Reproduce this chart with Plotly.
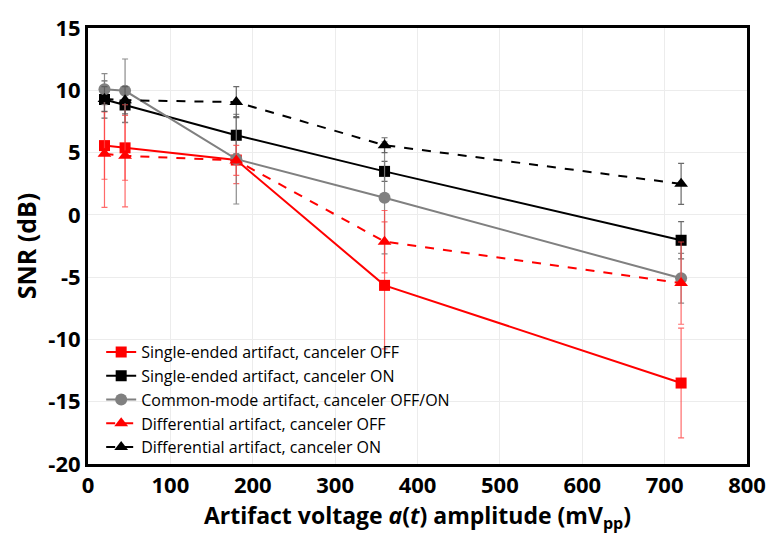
import plotly.graph_objects as go

x_vals = [20, 45, 180, 360, 720]

se_off = [5.56, 5.38, 4.40, -5.66, -13.5]
se_off_err = [2.7, 2.6, 1.9, 5.1, 4.4]

se_on = [9.26, 8.82, 6.39, 3.49, -2.04]
se_on_err = [1.5, 1.4, 1.5, 0.8, 1.5]

cm = [10.09, 9.96, 4.47, 1.37, -5.09]
cm_err = [1.24, 2.55, 3.6, 4.5, 2.0]

diff_off = [4.9, 4.74, 4.37, -2.15, -5.48]
diff_off_err = [4.3, 4.1, 1.2, 2.5, 3.3]

diff_on = [9.3, 9.2, 9.05, 5.59, 2.49]
diff_on_err = [1.0, 1.1, 1.25, 0.6, 1.65]

names = [
    "Single-ended artifact, canceler OFF",
    "Single-ended artifact, canceler ON",
    "Common-mode artifact, canceler OFF/ON",
    "Differential artifact, canceler OFF",
    "Differential artifact, canceler ON",
]

x_ticks = [0, 100, 200, 300, 400, 500, 600, 700, 800]
y_ticks = [-20, -15, -10, -5, 0, 5, 10, 15]

FONT = "Open Sans"

fig = go.Figure()

def add(y, err, name, color, ecolor, symbol, size, dash):
    fig.add_trace(go.Scatter(
        x=x_vals, y=y, name=name, mode="lines+markers",
        line=dict(color=color, width=2, dash=dash),
        marker=dict(symbol=symbol, size=size, color=color),
        error_y=dict(type="data", array=err, visible=True,
                     color=ecolor, thickness=1.2, width=3),
    ))

add(se_off, se_off_err, names[0], "#FF0000", "rgba(255,70,70,0.8)", "square", 11, "solid")
add(se_on, se_on_err, names[1], "#000000", "rgba(90,90,90,0.9)", "square", 11, "solid")
add(cm, cm_err, names[2], "#808080", "rgba(128,128,128,0.9)", "circle", 12, "solid")
add(diff_off, diff_off_err, names[3], "#FF0000", "rgba(255,70,70,0.8)", "triangle-up", 12, "dash")
add(diff_on, diff_on_err, names[4], "#000000", "rgba(90,90,90,0.9)", "triangle-up", 12, "dash")

fig.update_layout(
    width=778, height=537,
    margin=dict(l=88, r=24, t=16, b=70),
    paper_bgcolor="white", plot_bgcolor="white",
    font=dict(family=FONT, color="black"),
    showlegend=True,
    legend=dict(
        x=0.02, y=0.0, xanchor="left", yanchor="bottom",
        bgcolor="rgba(0,0,0,0)", font=dict(size=16, family=FONT),
        tracegroupgap=0, itemwidth=30,
    ),
    xaxis=dict(
        range=[0, 800], tickvals=x_ticks, ticktext=[str(v) for v in x_ticks],
        showgrid=True, gridcolor="#ececec", gridwidth=1,
        showline=True, linecolor="black", linewidth=3, mirror=True,
        ticks="", zeroline=False, ticklabeloverflow="allow",
        tickfont=dict(size=22, family=FONT, weight="bold"),
        title=dict(text="Artifact voltage <i>a</i>(<i>t</i>) amplitude (mV<sub>pp</sub>)",
                   font=dict(size=23, family=FONT, weight="bold"), standoff=9),
    ),
    yaxis=dict(
        range=[-20, 15], tickvals=y_ticks, ticktext=[str(v) for v in y_ticks],
        showgrid=True, gridcolor="#ececec", gridwidth=1,
        showline=True, linecolor="black", linewidth=3, mirror=True,
        ticks="", zeroline=False, ticklabeloverflow="allow",
        tickfont=dict(size=22, family=FONT, weight="bold"),
        title=dict(text="SNR (dB)", font=dict(size=25, family=FONT, weight="bold"), standoff=5),
    ),
)

fig.write_html("out.html")
